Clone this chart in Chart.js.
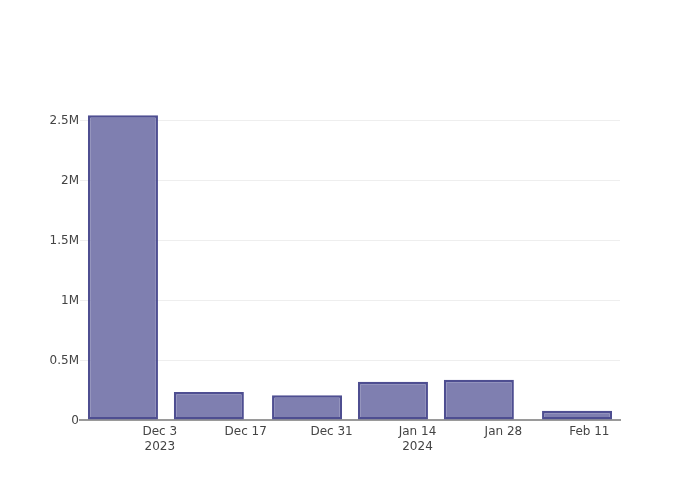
<!DOCTYPE html>
<html>
<head>
<meta charset="utf-8">
<script src="https://cdn.jsdelivr.net/npm/chart.js@4/dist/chart.umd.min.js"></script>
<style>
  html, body { margin: 0; padding: 0; background: #fff; }
  #wrap { width: 700px; height: 500px; }
</style>
</head>
<body>
<div id="wrap"><canvas id="chart" width="700" height="500"></canvas></div>
<script>
// bar dates and values
const periodDates = ['2023-11-27', '2023-12-11', '2023-12-27', '2024-01-10', '2024-01-24', '2024-02-09'];
const periodValues = [2540000, 233000, 206000, 319000, 336000, 78000];

// x ticks every two weeks, year shown under the first tick of each year
const tickDates = ['2023-12-03', '2023-12-17', '2023-12-31', '2024-01-14', '2024-01-28', '2024-02-11'];
const tickLabels = [['Dec 3', '2023'], ['Dec 17'], ['Dec 31'], ['Jan 14', '2024'], ['Jan 28'], ['Feb 11']];
const yTicks = [0, 500000, 1000000, 1500000, 2000000, 2500000];
const yTickLabels = ['0', '0.5M', '1M', '1.5M', '2M', '2.5M'];

const origin = Date.UTC(2023, 11, 3);
const toDay = (s) => {
  const [y, m, d] = s.split('-').map(Number);
  return (Date.UTC(y, m - 1, d) - origin) / 86400000; // days since Dec 3
};

const points = periodDates.map((d, i) => ({ x: toDay(d), y: periodValues[i] }));
const tickDays = tickDates.map(toDay);

const chart = new Chart(document.getElementById('chart'), {
  type: 'bar',
  data: {
    datasets: [
      {
        data: points,
        backgroundColor: 'rgb(127, 127, 176)',
        borderColor: 'rgb(78, 78, 145)',
        borderWidth: 2.5,
        borderSkipped: false,
        barPercentage: 0.815,
        categoryPercentage: 1,
      },
    ],
  },
  options: {
    responsive: false,
    animation: false,
    layout: { padding: { top: 100, right: 80, left: 0, bottom: 0 } },
    plugins: { legend: { display: false }, tooltip: { enabled: false } },
    scales: {
      x: {
        type: 'linear',
        min: -13,
        max: 75,
        offset: false,
        afterBuildTicks: (scale) => {
          scale.ticks = tickDays.map((v) => ({ value: v }));
        },
        afterFit: (scale) => { scale.height = 80; },
        grid: { display: false, drawTicks: false },
        border: { display: true, color: '#9a9a9a', width: 2 },
        ticks: {
          autoSkip: false,
          maxRotation: 0,
          padding: 4,
          color: '#444',
          font: { family: 'DejaVu Sans', size: 12, lineHeight: 1.25 },
          callback: (v, i) => tickLabels[i],
        },
      },
      y: {
        min: 0,
        max: 2666667,
        afterBuildTicks: (scale) => {
          scale.ticks = yTicks.map((v) => ({ value: v }));
        },
        afterFit: (scale) => { scale.width = 80; },
        grid: { color: '#eeeeee', lineWidth: 1, drawTicks: false },
        border: { display: false },
        ticks: {
          padding: 1,
          labelOffset: 1,
          color: '#444',
          font: { family: 'DejaVu Sans', size: 12 },
          callback: (v, i) => yTickLabels[i],
        },
      },
    },
  },
});
</script>
</body>
</html>
